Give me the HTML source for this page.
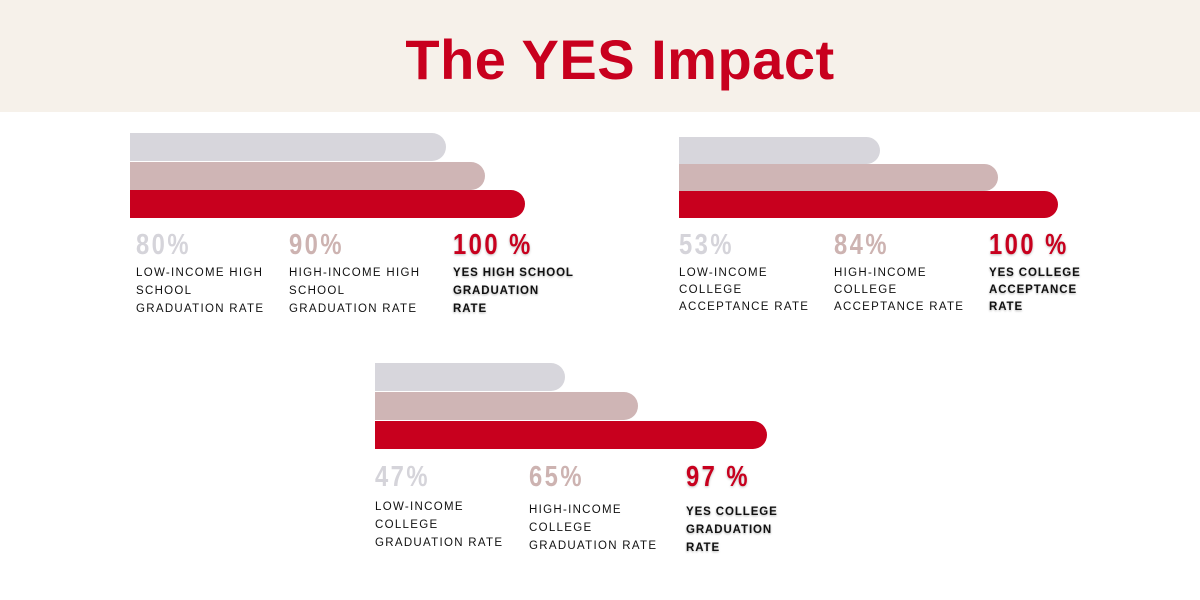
<!DOCTYPE html>
<html><head><style>
body{margin:0;width:1200px;height:600px;background:#fff;position:relative;overflow:hidden;font-family:"Liberation Sans",sans-serif}
.hdr{position:absolute;left:0;top:0;width:1200px;height:112px;background:#f6f1ea}
.title{position:absolute;left:0;width:1240px;top:28px;text-align:center;font-size:56px;font-weight:bold;color:#c8001e;line-height:64px;letter-spacing:0.5px}
.b{position:absolute;border-radius:0 14px 14px 0}
.g{background:#d7d6dc}.r{background:#cfb5b5}.d{background:#c8001e}
.n{position:absolute;font-family:"Liberation Sans",sans-serif;font-weight:bold;font-size:29px;line-height:30px;letter-spacing:3px;transform:translateY(-15px) scaleX(0.82);transform-origin:left center;white-space:nowrap}
.ng{color:#d5d4da}.nr{color:#cdb3b1}.nd{color:#c8001e;text-shadow:0 1px 3px rgba(0,0,0,.25)}
.l{position:absolute;font-size:11.5px;letter-spacing:1.3px;color:#111;line-height:18px;white-space:nowrap}
.lb{font-weight:bold;letter-spacing:0.9px;text-shadow:0 1px 2px rgba(0,0,0,.3)}
</style></head><body>
<div class="hdr"></div>
<div class="title">The YES Impact</div>

<div class="b g" style="left:130px;top:133px;width:316px;height:28px"></div>
<div class="b r" style="left:130px;top:162px;width:355px;height:28px"></div>
<div class="b d" style="left:130px;top:190px;width:395px;height:28px"></div>
<div class="n ng" style="left:136px;top:245px">80%</div>
<div class="n nr" style="left:289px;top:245px">90%</div>
<div class="n nd" style="left:453px;top:245px">100 %</div>
<div class="l" style="left:136px;top:264px">LOW-INCOME HIGH<br>SCHOOL<br>GRADUATION RATE</div>
<div class="l" style="left:289px;top:264px">HIGH-INCOME HIGH<br>SCHOOL<br>GRADUATION RATE</div>
<div class="l lb" style="left:453px;top:264px">YES HIGH SCHOOL<br>GRADUATION<br>RATE</div>

<div class="b g" style="left:679px;top:137px;width:201px;height:27px"></div>
<div class="b r" style="left:679px;top:164px;width:319px;height:27px"></div>
<div class="b d" style="left:679px;top:191px;width:379px;height:27px"></div>
<div class="n ng" style="left:679px;top:245px">53%</div>
<div class="n nr" style="left:834px;top:245px">84%</div>
<div class="n nd" style="left:989px;top:245px">100 %</div>
<div class="l" style="left:679px;top:265px;line-height:17px">LOW-INCOME<br>COLLEGE<br>ACCEPTANCE RATE</div>
<div class="l" style="left:834px;top:265px;line-height:17px">HIGH-INCOME<br>COLLEGE<br>ACCEPTANCE RATE</div>
<div class="l lb" style="left:989px;top:265px;line-height:17px">YES COLLEGE<br>ACCEPTANCE<br>RATE</div>

<div class="b g" style="left:375px;top:363px;width:190px;height:28px"></div>
<div class="b r" style="left:375px;top:392px;width:263px;height:28px"></div>
<div class="b d" style="left:375px;top:421px;width:392px;height:28px"></div>
<div class="n ng" style="left:375px;top:477px">47%</div>
<div class="n nr" style="left:529px;top:477px">65%</div>
<div class="n nd" style="left:686px;top:477px">97 %</div>
<div class="l" style="left:375px;top:498px">LOW-INCOME<br>COLLEGE<br>GRADUATION RATE</div>
<div class="l" style="left:529px;top:501px">HIGH-INCOME<br>COLLEGE<br>GRADUATION RATE</div>
<div class="l lb" style="left:686px;top:503px">YES COLLEGE<br>GRADUATION<br>RATE</div>
</body></html>
